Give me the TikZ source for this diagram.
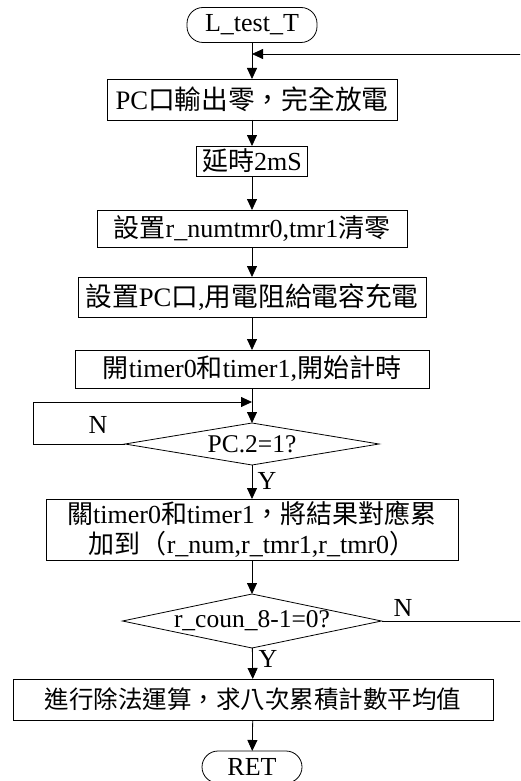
\documentclass[tikz,border=0pt]{standalone}
\usepackage{fontspec}
\setmainfont{Liberation Serif}
\newfontfamily\cjkfont{Noto Sans CJK TC}
\newcommand{\cj}[1]{{\cjkfont #1}}
\usetikzlibrary{arrows.meta,shapes.geometric}
\tikzset{
  every node/.style={inner sep=0pt, outer sep=0pt},
  base/.style={line width=0.8pt},
  procbox/.style={draw, base, rectangle, align=center,
    font=\fontsize{26}{30}\selectfont},
  termbox/.style={draw, base, rectangle, rounded corners=16pt,
    font=\fontsize{26}{30}\selectfont},
  decision/.style={draw, base, diamond, aspect=1},
  dlabel/.style={font=\fontsize{25.5}{30}\selectfont},
  branch/.style={font=\fontsize{26}{30}\selectfont},
  flow/.style={base, -{Triangle[width=10pt,length=11pt]}},
}
\begin{document}
\begin{tikzpicture}[x=1pt,y=-1pt]
\useasboundingbox (0,0) rectangle (520,781);
\clip (0,0) rectangle (520,781);

% process steps, top to bottom
\node[termbox, minimum width=130, minimum height=35] (start) at (252,25) {L\_test\_T};
\node[procbox, minimum width=290, minimum height=41, font=\fontsize{26.7}{30}\selectfont]
  (b1) at (252,99.5) {PC\cj{口輸出零，完全放電}};
\node[procbox, minimum width=111, minimum height=30] (b2) at (252,161) {\cj{延時}2mS};
\node[procbox, minimum width=310, minimum height=37] (b3) at (252,228.5)
  {\cj{設置}r\_numtmr0,tmr1\cj{清零}};
\node[procbox, minimum width=348, minimum height=40, font=\fontsize{26.7}{30}\selectfont]
  (b4) at (252,297) {\cj{設置}PC\cj{口},\cj{用電阻給電容充電}};
\node[procbox, minimum width=354, minimum height=38] (b5) at (252,369)
  {\cj{開}timer0\cj{和}timer1,\cj{開始計時}};
\node[decision, minimum width=254, minimum height=42,
  label={[dlabel]center:PC.2=1?}] (d1) at (252,444) {};
\node[procbox, minimum width=412, minimum height=61] (b6) at (252,529.5)
  {\cj{關}timer0\cj{和}timer1\cj{，將結果對應累}\\
   \cj{加到（}r\_num,r\_tmr1,r\_tmr0\cj{）}};
\node[decision, minimum width=259, minimum height=54,
  label={[dlabel]center:r\_coun\_8-1=0?}] (d2) at (252,621) {};
\node[procbox, minimum width=480, minimum height=41, font=\fontsize{24.5}{30}\selectfont]
  (b7) at (253,699.5) {\cj{進行除法運算，求八次累積計數平均值}};
\node[termbox, minimum width=100, minimum height=32] (ret) at (252,767) {RET};

% junctions and bends of the loops
\coordinate (j1) at (252,54);
\coordinate (rx) at (524,54);
\coordinate (j2) at (252,402);
\coordinate (lx) at (33,402);

% main flow
\draw[flow] (start) -- (b1);
\draw[flow] (b1) -- (b2);
\draw[flow] (b2) -- (b3);
\draw[flow] (b3) -- (b4);
\draw[flow] (b4) -- (b5);
\draw[flow] (b5) -- (d1);
\draw[flow] (d1) -- (b6);
\draw[flow] (b6) -- (d2);
\draw[flow] (d2) -- (b7);
\draw[flow] (b7) -- (ret);

% loops back
\draw[flow] (d1.west) -| (lx) -- (j2);
\draw[flow] (d2.east) -| (rx) -- (j1);

% branch labels
\node[branch] (n1) at (98,425) {N};
\node[branch] (y1) at (267,481) {Y};
\node[branch] (n2) at (403,608) {N};
\node[branch] (y2) at (268,659) {Y};
\end{tikzpicture}
\end{document}
